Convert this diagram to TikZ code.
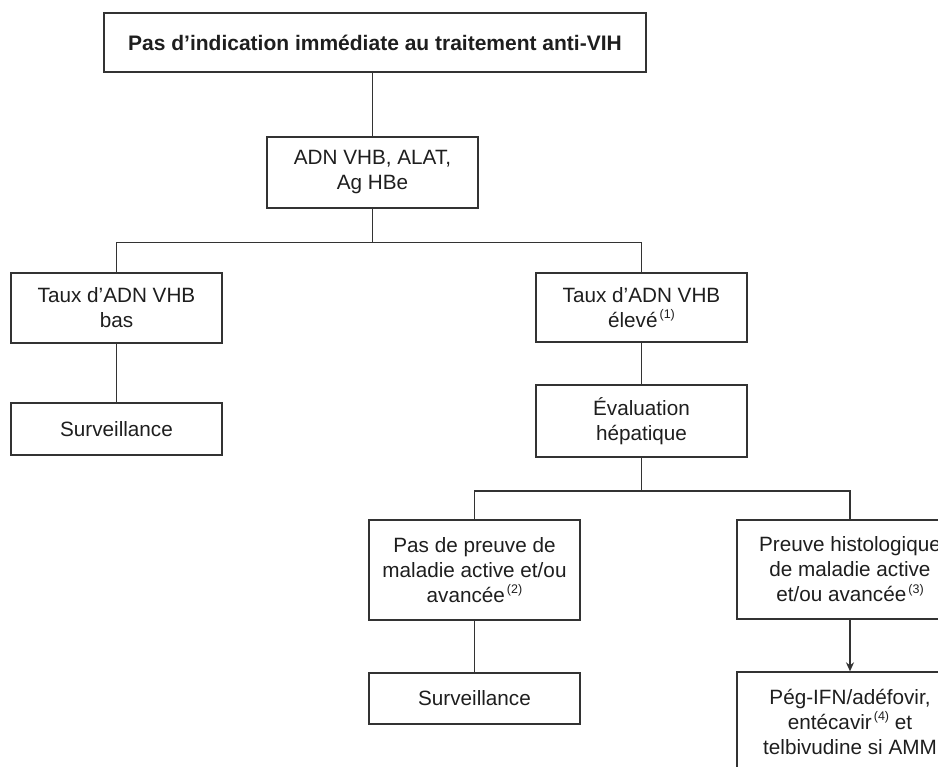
\documentclass[tikz,border=0pt]{standalone}
\usepackage{fontspec}
\setmainfont{Liberation Sans}
\usetikzlibrary{arrows.meta}
\definecolor{ln}{HTML}{333333}
\definecolor{tx}{HTML}{1E1E1E}
\newcommand\supnote[1]{\kern2pt\raisebox{0.42em}{\fontsize{12.5}{12.5}\selectfont(#1)}}
\tikzset{
  box/.style={draw=ln, line width=1.3pt, rectangle, minimum width=211pt, inner sep=0pt,
    align=center, text=tx, font=\fontsize{20.7}{25}\selectfont},
  conn/.style={draw=ln, line width=1.3pt},
  arr/.style={conn, -{Stealth[length=9pt,width=8pt]}}
}
\begin{document}
\begin{tikzpicture}[x=1pt,y=-1pt]
\path[use as bounding box, clip] (0,0) rectangle (938,767);
\node[box, minimum width=542pt, minimum height=59pt, font=\fontsize{21}{25}\selectfont\bfseries] (top) at (375,42.5) {Pas d’indication immédiate au traitement anti-VIH};
\node[box, minimum height=71pt] (adn) at (372.5,172.5) {ADN VHB, ALAT,\\Ag HBe};
\node[box, minimum height=70pt] (tl) at (116.5,308) {Taux d’ADN VHB\\bas};
\node[box, minimum height=52pt] (sl) at (116.5,429) {Surveillance};
\node[box, minimum height=69pt] (tr) at (641.5,307.5) {Taux d’ADN VHB\\élevé\supnote{1}};
\node[box, minimum height=72pt] (ev) at (641.5,421) {Évaluation\\hépatique};
\node[box, minimum height=100pt] (pp) at (474.5,570) {Pas de preuve de\\maladie active et/ou\\avancée\supnote{2}};
\node[box, minimum height=51pt] (s2) at (474.5,698.5) {Surveillance};
\node[box, minimum width=226pt, minimum height=99pt] (ph) at (850,569.5) {Preuve histologique\\de maladie active\\et/ou avancée\supnote{3}};
\node[box, minimum width=226pt, minimum height=100pt] (bt) at (850,722) {Pég-IFN/adéfovir,\\entécavir\supnote{4} et\\telbivudine si AMM};
\coordinate (j1) at (372.5,242.5);
\coordinate (j2) at (641.5,491);
\draw[conn] (adn.north |- top.south) -- (adn.north);
\draw[conn] (adn.south) -- (j1);
\draw[conn] (tl.north) |- (j1) -| (tr.north);
\draw[conn] (tl.south) -- (sl.north);
\draw[conn] (tr.south) -- (ev.north);
\draw[conn] (ev.south) -- (j2);
\draw[conn] (pp.north) |- (j2) -| (ph.north);
\draw[conn] (pp.south) -- (s2.north);
\draw[arr] (ph.south) -- (bt.north);
\end{tikzpicture}
\end{document}
